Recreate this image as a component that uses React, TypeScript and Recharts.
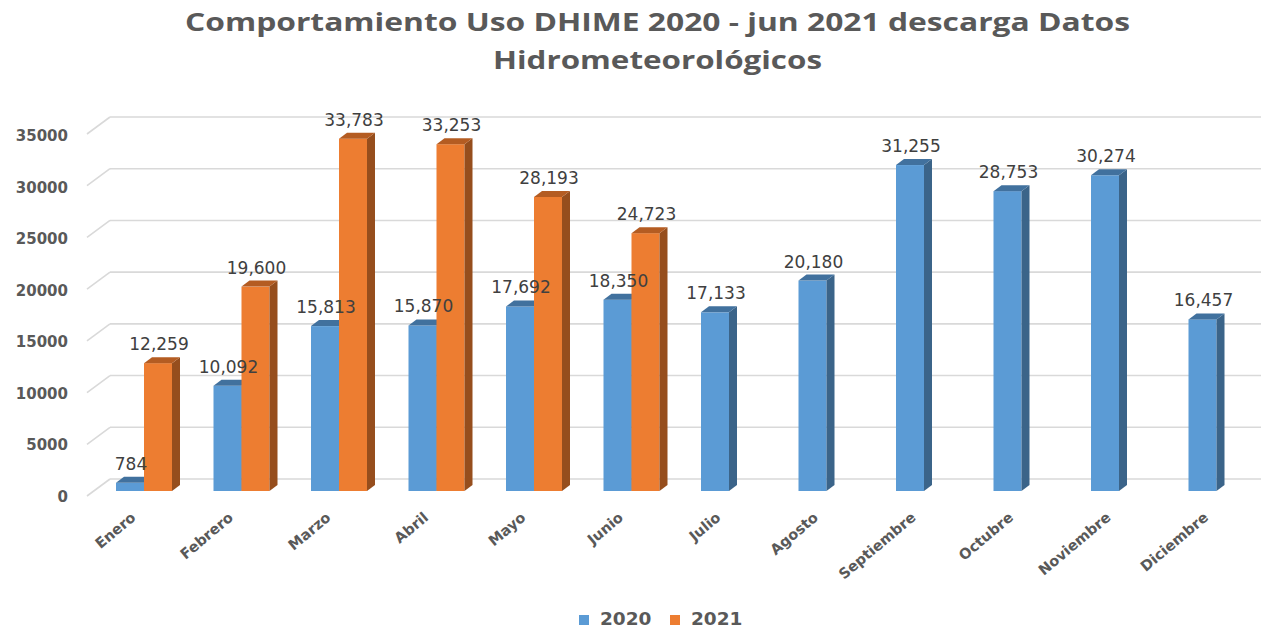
import React from "react";
import { BarChart, Bar, XAxis, YAxis, CartesianGrid, LabelList, Legend } from "recharts";

const months = ["Enero", "Febrero", "Marzo", "Abril", "Mayo", "Junio", "Julio", "Agosto", "Septiembre", "Octubre", "Noviembre", "Diciembre"];
const values2020 = [784, 10092, 15813, 15870, 17692, 18350, 17133, 20180, 31255, 28753, 30274, 16457];
const values2021: (number | null)[] = [12259, 19600, 33783, 33253, 28193, 24723, null, null, null, null, null, null];
const yTicks = [0, 5000, 10000, 15000, 20000, 25000, 30000, 35000];
const titleLine1 = "Comportamiento Uso DHIME 2020 - jun 2021 descarga Datos";
const titleLine2 = "Hidrometeorológicos";

const data = months.map((m, i) => ({ month: m, y2020: values2020[i], y2021: values2021[i] }));

const W = 1270;
const H = 629;
const TOP = 126;
const PLOT_H = 365;
const BOTTOM = TOP + PLOT_H;
const LEGEND_H = 24;
const DX = 8;
const DY = -6;

const BLUE = { front: "#5B9BD5", side: "#3B6489", top: "#41719E" };
const ORANGE = { front: "#ED7D31", side: "#964E1D", top: "#B45C22" };

const makeShape = (c: { front: string; side: string; top: string }) => (p: any) => {
  const { x, y, width, height } = p;
  if (height == null || isNaN(height) || width == null) return <g />;
  const w = width;
  const h = height;
  return (
    <g>
      <rect x={x} y={y} width={w} height={h} fill={c.front} />
      <polygon
        points={`${x + w},${y} ${x + w + DX},${y + DY} ${x + w + DX},${y + h + DY} ${x + w},${y + h}`}
        fill={c.side}
      />
      <polygon points={`${x},${y} ${x + w},${y} ${x + w + DX},${y + DY} ${x + DX},${y + DY}`} fill={c.top} />
    </g>
  );
};

const gridLine = (p: any) => {
  const y = p.y1;
  const frac = (BOTTOM - y) / PLOT_H;
  const backY = y - 12 + 3 * frac;
  const frontY = y + 5 + 3 * frac;
  return (
    <g key={p.key ?? `g-${y}`}>
      <line x1={110} y1={backY} x2={p.x2} y2={backY} stroke="#d9d9d9" strokeWidth={1.6} />
      <line x1={87} y1={frontY} x2={110} y2={backY} stroke="#d9d9d9" strokeWidth={1.6} />
    </g>
  );
};

const YTick = (p: any) => {
  const y = p.y;
  const frac = (BOTTOM - y) / PLOT_H;
  return (
    <text
      x={68}
      y={y + 11 + 4 * frac}
      textAnchor="end"
      fontFamily="DejaVu Sans"
      fontWeight="bold"
      fontSize={15}
      fill="#595959"
    >
      {p.payload.value}
    </text>
  );
};

const XTick = (p: any) => {
  const x = p.x - 7;
  const y = BOTTOM + 28;
  return (
    <text
      x={x}
      y={y}
      transform={`rotate(-40 ${x} ${y})`}
      textAnchor="end"
      fontFamily="DejaVu Sans"
      fontWeight="bold"
      fontSize={14.5}
      fill="#595959"
    >
      {p.payload.value}
    </text>
  );
};

const ValueLabel = (p: any) => {
  const { x, y, width, value } = p;
  if (value == null) return null;
  return (
    <text
      x={x + width / 2 + 1}
      y={y - 13}
      textAnchor="middle"
      fontFamily="DejaVu Sans"
      fontSize={17}
      fill="#404040"
    >
      {Number(value).toLocaleString("en-US")}
    </text>
  );
};

const LegendContent = (props: any) => {
  const items = props.payload || [];
  return (
    <svg width={1261} height={LEGEND_H} style={{ display: "block" }}>
      {items.map((it: any, i: number) => (
        <g key={i}>
          <rect x={579 + i * 91} y={LEGEND_H - 14} width={10} height={10} fill={it.color} />
          <text
            x={600 + i * 91}
            y={LEGEND_H - 4}
            fontFamily="DejaVu Sans"
            fontWeight="bold"
            fontSize={18.5}
            fill="#595959"
          >
            {it.value}
          </text>
        </g>
      ))}
    </svg>
  );
};

export default function App() {
  return (
    <div style={{ position: "absolute", left: 0, top: 0, width: 1261, height: 629, overflow: "hidden", background: "#fff" }}>
      <BarChart
        width={W}
        height={H}
        data={data}
        margin={{ top: TOP, bottom: H - BOTTOM - LEGEND_H - 1, left: 94, right: 5 }}
        barGap={0}
        barSize={28}
      >
        <CartesianGrid vertical={false} horizontal={gridLine} />
        <XAxis dataKey="month" height={1} axisLine={false} tickLine={false} tick={<XTick />} interval={0} />
        <YAxis
          width={1}
          domain={[0, 35000]}
          ticks={yTicks}
          axisLine={false}
          tickLine={false}
          tick={<YTick />}
          interval={0}
        />
        <Legend
          verticalAlign="bottom"
          height={LEGEND_H}
          wrapperStyle={{ position: "absolute", left: 0, top: 629 - LEGEND_H, width: 1261, height: LEGEND_H, bottom: "auto" }}
          content={<LegendContent />}
        />
        <Bar dataKey="y2020" name="2020" fill={BLUE.front} shape={makeShape(BLUE)} isAnimationActive={false}>
          <LabelList dataKey="y2020" content={<ValueLabel />} />
        </Bar>
        <Bar dataKey="y2021" name="2021" fill={ORANGE.front} shape={makeShape(ORANGE)} isAnimationActive={false}>
          <LabelList dataKey="y2021" content={<ValueLabel />} />
        </Bar>
      </BarChart>
      <svg width={1261} height={629} style={{ position: "absolute", left: 0, top: 0, pointerEvents: "none" }}>
        <text
          x={185}
          y={31}
          textLength={945}
          lengthAdjust="spacingAndGlyphs"
          fontFamily="Open Sans"
          fontWeight="bold"
          fontSize={25}
          fill="#595959"
        >
          {titleLine1}
        </text>
        <text
          x={493}
          y={69}
          textLength={329}
          lengthAdjust="spacingAndGlyphs"
          fontFamily="Open Sans"
          fontWeight="bold"
          fontSize={25}
          fill="#595959"
        >
          {titleLine2}
        </text>
      </svg>
    </div>
  );
}
